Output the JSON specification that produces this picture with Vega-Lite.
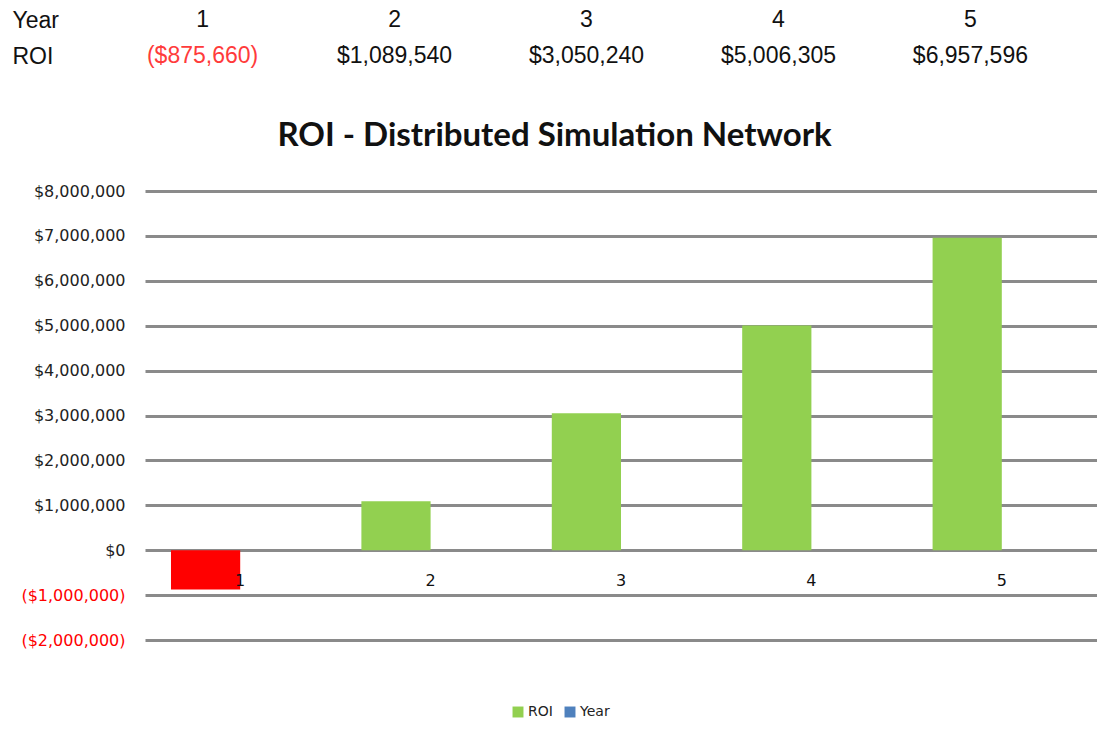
{
  "$schema": "https://vega.github.io/schema/vega-lite/v6.json",
  "padding": {"left": 12, "top": 2, "right": 0, "bottom": 0},
  "background": "white",
  "data": {"values": [
    {"Year": 1, "ROI": -875660},
    {"Year": 2, "ROI": 1089540},
    {"Year": 3, "ROI": 3050240},
    {"Year": 4, "ROI": 5006305},
    {"Year": 5, "ROI": 6957596}
  ]},
  "spacing": 46,
  "vconcat": [
    {
      "width": 883,
      "height": 72,
      "layer": [
        {
          "mark": {"type": "text", "font": "Liberation Sans", "fontSize": 23, "color": "#111"},
          "encoding": {
            "x": {"field": "Year", "type": "ordinal", "axis": null, "scale": {"padding": 0.3}},
            "y": {"datum": "Year", "type": "nominal", "scale": {"domain": ["Year", "ROI"]},
              "axis": {"title": null, "domain": false, "ticks": false, "labelAlign": "left", "labelPadding": 133,
                "minExtent": 133, "maxExtent": 133,
                "labelFont": "Liberation Sans", "labelFontSize": 23, "labelColor": "#111"}},
            "text": {"field": "Year"}
          }
        },
        {
          "mark": {"type": "text", "font": "Liberation Sans", "fontSize": 23},
          "encoding": {
            "x": {"field": "Year", "type": "ordinal", "axis": null},
            "y": {"datum": "ROI", "type": "nominal"},
            "text": {"field": "ROI", "format": "($,.0f"},
            "color": {"condition": {"test": "datum.ROI < 0", "value": "#FF3B3B"}, "value": "#111"}
          }
        }
      ]
    },
    {
      "width": 952,
      "height": 449,
      "title": {"text": "ROI - Distributed Simulation Network", "font": "Lato", "fontSize": 33, "fontWeight": "bold", "color": "#111", "offset": 30, "anchor": "middle", "frame": "bounds"},
      "layer": [
        {
          "transform": [{"fold": ["ROI", "Year"], "as": ["series", "value"]}],
          "mark": {"type": "bar"},
          "encoding": {
            "x": {"field": "Year", "type": "ordinal", "scale": {"paddingInner": 0.273, "paddingOuter": 0.1365}, "axis": null},
            "xOffset": {"field": "series", "type": "nominal", "scale": {"domain": ["ROI", "Year"], "paddingInner": 0, "paddingOuter": 0}},
            "y": {"field": "value", "type": "quantitative",
              "scale": {"domain": [-2000000, 8000000], "nice": false},
              "axis": {"title": null, "values": [-2000000, -1000000, 0, 1000000, 2000000, 3000000, 4000000, 5000000, 6000000, 7000000, 8000000],
                "format": "($,.0f", "labelColor": {"condition": {"test": "datum.value < 0", "value": "#FF0000"}, "value": "#222"},
                "domain": false, "ticks": false, "labelPadding": 20, "minExtent": 133, "maxExtent": 133,
                "gridColor": "#8A8A8A", "gridWidth": 3, "gridOpacity": 1,
                "labelFont": "DejaVu Sans", "labelFontSize": 16}},
            "color": {"condition": {"test": "datum.value < 0", "value": "#FF0000"}, "field": "series", "type": "nominal",
              "scale": {"domain": ["ROI", "Year"], "range": ["#92D050", "#4F81BD"]},
              "legend": {"title": null, "orient": "none", "legendX": 366, "legendY": 703, "direction": "horizontal", "symbolType": "square", "symbolSize": 120,
                "symbolStrokeWidth": 0, "labelFont": "DejaVu Sans", "labelFontSize": 14, "labelColor": "#222", "columnPadding": 10, "labelOffset": 3}}
          }
        },
        {
          "mark": {"type": "text", "dy": 31, "font": "DejaVu Sans", "fontSize": 16, "color": "#111"},
          "encoding": {
            "x": {"field": "Year", "type": "ordinal"},
            "y": {"datum": 0, "type": "quantitative"},
            "text": {"field": "Year"}
          }
        }
      ]
    }
  ],
  "config": {"view": {"stroke": null}}
}
